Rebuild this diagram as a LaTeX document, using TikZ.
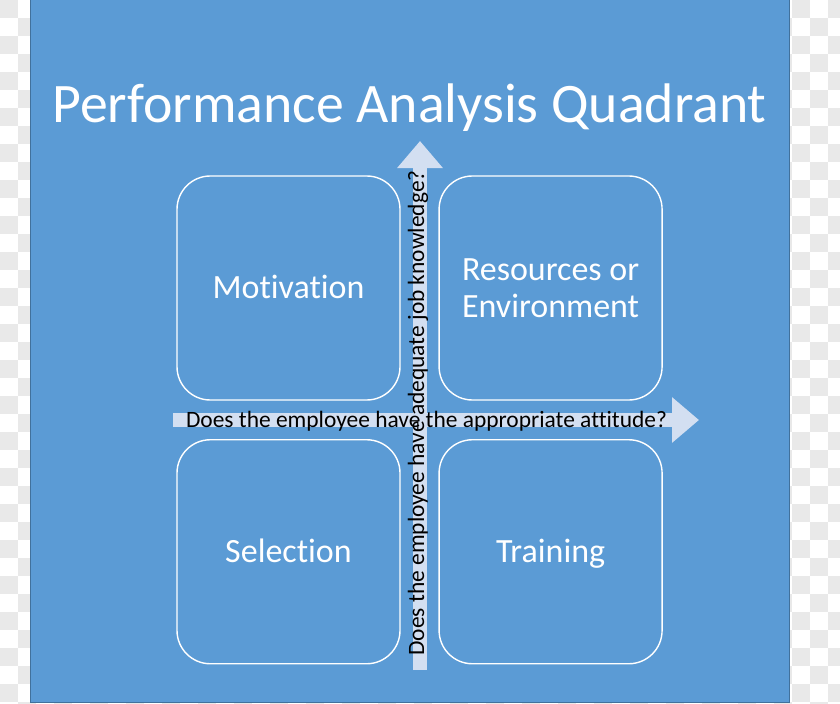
\documentclass[tikz,border=0pt]{standalone}
\usepackage{fontspec}
\setmainfont{Carlito}[Ligatures=NoCommon]
\usetikzlibrary{positioning,arrows.meta}
\definecolor{panelblue}{HTML}{5B9BD5}
\definecolor{paneledge}{HTML}{41719C}
\definecolor{arrowfill}{HTML}{D3DFF1}
\definecolor{checkgray}{HTML}{E9E9E9}

\begin{document}
\begin{tikzpicture}[x=0.03cm, y=-0.03cm,
    quad/.style={rectangle, draw=white, line width=1.2pt, rounded corners=1cm,
      minimum width=6.69cm, minimum height=6.72cm, text=white, align=center,
      font=\fontsize{29}{32}\selectfont},
    oneline/.style={text height=21.75pt, text depth=3.2pt},
    ask/.style={text=black, inner sep=0pt, font=\fontsize{20}{22}\selectfont},
    bigarrow/.style={arrowfill, line width=0.42cm, -{Triangle[width=1.32cm, length=0.81cm]}}]
  \useasboundingbox (0,0) rectangle (840,704);
  % checkered backdrop
  \fill[white] (0,0) rectangle (840,704);
  \foreach \i in {0,...,23}
    \foreach \j in {0,...,19} {
      \fill[checkgray] (36*\i,36*\j) rectangle ++(18,18);
      \fill[checkgray] (36*\i+18,36*\j+18) rectangle ++(18,18);
    }
  \draw[paneledge, fill=panelblue] (30,-1) rectangle (789,702);

  \node[text=white, anchor=base, font=\fontsize{47.6}{50}\selectfont] (ttl) at (409.5,123) {Performance Analysis Quadrant};

  \node[quad, oneline] (mot) at (288.5,288) {Motivation};
  \node[quad, right=1.13cm of mot] (res) {Resources or\\Environment};
  \node[quad, oneline, below=1.15cm of mot] (sel) {Selection};
  \node[quad, oneline, below=1.15cm of res] (tra) {Training};

  \coordinate (hfoot) at (173,420);
  \coordinate (htip) at (699,420);
  \coordinate (vfoot) at (420,670);
  \coordinate (vtip) at (420,141);
  \draw[bigarrow] (hfoot) -- (htip);
  \draw[bigarrow] (vfoot) -- (vtip);

  \node[ask, anchor=base] (att) at (426.5,427) {Does the employee have the appropriate attitude?};
  \node[ask, anchor=base, rotate=90] (know) at (424,413) {Does the employee have adequate job knowledge?};
\end{tikzpicture}
\end{document}
